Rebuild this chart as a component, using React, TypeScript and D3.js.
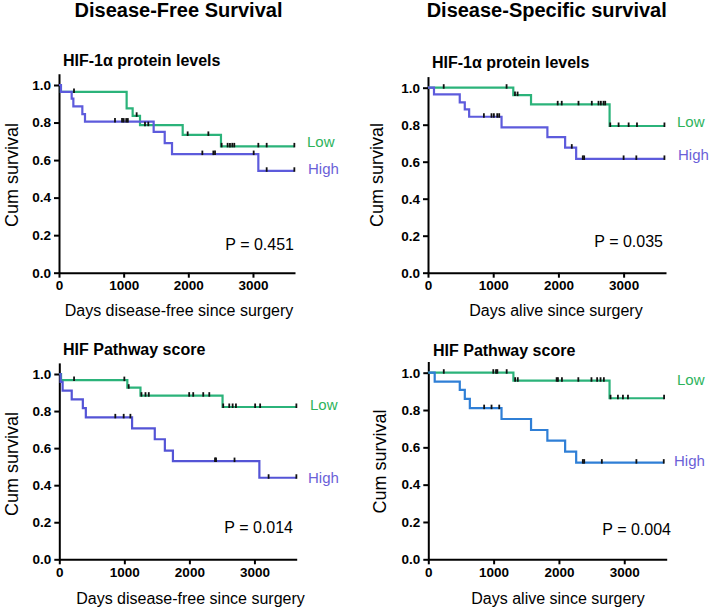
import React, { useEffect, useRef } from "react";
import * as d3 from "d3";

// ---------- text / ticks ----------
const xTickValues = [0, 1000, 2000, 3000];
const yTickValues = [0, 0.2, 0.4, 0.6, 0.8, 1.0];
const groupLabels = ["Low", "High"];
const columnTitles = ["Disease-Free Survival", "Disease-Specific survival"];
const rowTitles = ["HIF-1\u03B1 protein levels", "HIF Pathway score"];
const xAxisTitles = ["Days disease-free since surgery", "Days alive since surgery"];
const yAxisTitle = "Cum survival";
const pValues = ["P = 0.451", "P = 0.035", "P = 0.014", "P = 0.004"];

// ---------- Panel A: DFS, HIF-1a protein ----------
const dfsProtLowEventDays = [30, 1046, 1139, 1253, 1913, 2505];
const dfsProtLowSurv = [0.963, 0.875, 0.836, 0.786, 0.734, 0.673];
const dfsProtLowCensorDays = [232, 1201, 1330, 1381, 1990, 2310, 2515, 2608, 2644, 2680, 2711, 3083, 3212, 3640];
const dfsProtHighEventDays = [30, 196, 222, 361, 402, 1464, 1635, 1748, 3083];
const dfsProtHighSurv = [0.963, 0.927, 0.886, 0.845, 0.805, 0.75, 0.69, 0.632, 0.543];
const dfsProtHighCensorDays = [866, 975, 1000, 1040, 1065, 2217, 2387, 2413, 3011, 3212, 3640];

// ---------- Panel B: DSS, HIF-1a protein ----------
const dssProtLowEventDays = [1308, 1580, 2785];
const dssProtLowSurv = [0.96, 0.91, 0.793];
const dssProtLowCensorDays = [241, 1205, 1334, 1374, 1989, 2051, 2308, 2512, 2615, 2651, 2692, 2718, 2795, 2923, 3077, 3205, 3626];
const dssProtHighEventDays = [92, 487, 564, 631, 1128, 1831, 2103, 2272];
const dssProtHighSurv = [0.964, 0.921, 0.883, 0.843, 0.786, 0.733, 0.676, 0.615];
const dssProtHighCensorDays = [857, 974, 1010, 1062, 1092, 2205, 2374, 2395, 3000, 3195, 3626];

// ---------- Panel C: DFS, HIF pathway score ----------
const dfsPathLowEventDays = [27, 1046, 1248, 2510];
const dfsPathLowSurv = [0.967, 0.926, 0.883, 0.822];
const dfsPathLowCensorDays = [227, 1000, 1067, 1263, 1325, 1376, 1997, 2059, 2213, 2306, 2520, 2613, 2665, 2716, 3011, 3088, 3645];
const dfsPathHighEventDays = [20, 51, 191, 362, 408, 1119, 1468, 1623, 1747, 3076];
const dfsPathHighSurv = [0.958, 0.91, 0.863, 0.816, 0.766, 0.707, 0.648, 0.586, 0.53, 0.44];
const dfsPathHighCensorDays = [861, 990, 1093, 2394, 2410, 2694, 3218, 3645];

// ---------- Panel D: DSS, HIF pathway score ----------
const dssPathLowEventDays = [1303, 2775];
const dssPathLowSurv = [0.957, 0.863];
const dssPathLowCensorDays = [237, 995, 1037, 1057, 1200, 1329, 1370, 1965, 1985, 2046, 2297, 2498, 2585, 2637, 2688, 2790, 2903, 2980, 3057, 3610];
const dssPathHighEventDays = [98, 482, 559, 636, 1121, 1573, 1823, 2095, 2264];
const dssPathHighSurv = [0.952, 0.908, 0.86, 0.81, 0.752, 0.693, 0.636, 0.577, 0.518];
const dssPathHighCensorDays = [855, 968, 1086, 2366, 2387, 2657, 3186, 3605];

const W = 709;
const H = 611;
const FONT = "Arial, 'Liberation Sans', Helvetica, sans-serif";

type Curve = { ev: number[]; s: number[]; c: number[]; color: string };

const panels = [
  {
    x0: 59, x1: 295, yb: 272.7, y1: 85,
    sub: rowTitles[0], subX: 63, subY: 66,
    xt: xAxisTitles[0], xtX: 179, xtY: 316,
    ytX: 17.5, ytY: 175,
    p: pValues[0], pX: 294, pY: 250,
    low: { ev: dfsProtLowEventDays, s: dfsProtLowSurv, c: dfsProtLowCensorDays, color: "#2bb37a" },
    high: { ev: dfsProtHighEventDays, s: dfsProtHighSurv, c: dfsProtHighCensorDays, color: "#5d5bdc" },
    lowLab: [307, 1], highLab: [308, 3],
  },
  {
    x0: 428, x1: 666, yb: 272.7, y1: 87.7,
    sub: rowTitles[0], subX: 432, subY: 68,
    xt: xAxisTitles[1], xtX: 556, xtY: 316,
    ytX: 382.5, ytY: 175,
    p: pValues[1], pX: 663, pY: 247,
    low: { ev: dssProtLowEventDays, s: dssProtLowSurv, c: dssProtLowCensorDays, color: "#2bb37a" },
    high: { ev: dssProtHighEventDays, s: dssProtHighSurv, c: dssProtHighCensorDays, color: "#5d5bdc" },
    lowLab: [677, 1], highLab: [678, 1],
  },
  {
    x0: 59.3, x1: 296.7, yb: 559.3, y1: 374,
    sub: rowTitles[1], subX: 63, subY: 355,
    xt: xAxisTitles[0], xtX: 190.5, xtY: 604,
    ytX: 17.5, ytY: 464,
    p: pValues[2], pX: 293, pY: 533,
    low: { ev: dfsPathLowEventDays, s: dfsPathLowSurv, c: dfsPathLowCensorDays, color: "#2bb37a" },
    high: { ev: dfsPathHighEventDays, s: dfsPathHighSurv, c: dfsPathHighCensorDays, color: "#5454d6" },
    lowLab: [310, 3], highLab: [308, 5],
  },
  {
    x0: 428.3, x1: 666.7, yb: 559.3, y1: 372.7,
    sub: rowTitles[1], subX: 433, subY: 356,
    xt: xAxisTitles[1], xtX: 558, xtY: 604,
    ytX: 385.5, ytY: 461.5,
    p: pValues[3], pX: 671, pY: 535,
    low: { ev: dssPathLowEventDays, s: dssPathLowSurv, c: dssPathLowCensorDays, color: "#2bb37a" },
    high: { ev: dssPathHighEventDays, s: dssPathHighSurv, c: dssPathHighCensorDays, color: "#2f7fd6" },
    lowLab: [677, -13], highLab: [674, 3],
  },
];

function survAt(curve: Curve, t: number) {
  let s = 1;
  for (let i = 0; i < curve.ev.length; i++) if (curve.ev[i] <= t) s = curve.s[i];
  return s;
}

export default function App() {
  const ref = useRef<SVGSVGElement>(null);

  useEffect(() => {
    const svg = d3.select(ref.current);
    svg.selectAll("*").remove();
    svg.append("rect").attr("width", W).attr("height", H).attr("fill", "#fff");

    // column titles
    [178.5, 546.7].forEach((cx, i) => {
      svg.append("text").attr("x", cx).attr("y", 17).attr("text-anchor", "middle")
        .attr("font-family", FONT).attr("font-weight", "bold").attr("font-size", 20)
        .attr("fill", "#000").text(columnTitles[i]);
    });

    panels.forEach((p) => {
      const x = d3.scaleLinear().domain([0, 3650]).range([p.x0, p.x1]);
      const unit = p.yb - p.y1;
      const y = d3.scaleLinear().domain([0, 1.06]).range([p.yb, p.yb - 1.06 * unit]);
      const g = svg.append("g");

      // axes
      const xa = g.append("g").attr("transform", `translate(0,${p.yb})`)
        .call(d3.axisBottom(x).tickValues(xTickValues).tickSize(5).tickSizeOuter(0).tickPadding(3).tickFormat(d3.format("d")));
      const ya = g.append("g").attr("transform", `translate(${p.x0},0)`)
        .call(d3.axisLeft(y).tickValues(yTickValues).tickSize(5).tickSizeOuter(0).tickPadding(3).tickFormat(d3.format(".1f")));
      [xa, ya].forEach((a) => {
        a.select(".domain").attr("stroke", "#000").attr("stroke-width", 2);
        a.selectAll(".tick line").attr("stroke", "#000").attr("stroke-width", 2);
        a.selectAll(".tick text").attr("font-family", FONT).attr("font-weight", "bold")
          .attr("font-size", 13.5).attr("fill", "#000");
      });

      // curves
      const line = d3.line<[number, number]>().x((d) => x(d[0])).y((d) => y(d[1])).curve(d3.curveStepAfter);
      [p.low as Curve, p.high as Curve].forEach((c) => {
        const end = Math.max(c.c[c.c.length - 1], c.ev[c.ev.length - 1]);
        const pts: [number, number][] = [[0, 1]];
        c.ev.forEach((t, i) => pts.push([t, c.s[i]]));
        pts.push([end, c.s[c.s.length - 1]]);
        g.append("path").attr("d", line(pts)).attr("fill", "none")
          .attr("stroke", c.color).attr("stroke-width", 2.2);
      });
      [p.low as Curve, p.high as Curve].forEach((c) => {
        g.selectAll(null).data(c.c).enter().append("line")
          .attr("x1", (t) => x(t)).attr("x2", (t) => x(t))
          .attr("y1", (t) => y(survAt(c, t)) - 3.5).attr("y2", (t) => y(survAt(c, t)) + 1)
          .attr("stroke", "#111").attr("stroke-width", 1.8);
      });

      // group labels
      const lowEnd = p.low.s[p.low.s.length - 1];
      const highEnd = p.high.s[p.high.s.length - 1];
      g.append("text").attr("x", p.lowLab[0]).attr("y", y(lowEnd) + p.lowLab[1])
        .attr("font-family", FONT).attr("font-size", 15).attr("fill", "#2db35c").text(groupLabels[0]);
      g.append("text").attr("x", p.highLab[0]).attr("y", y(highEnd) + p.highLab[1])
        .attr("font-family", FONT).attr("font-size", 15).attr("fill", "#6b5fd8").text(groupLabels[1]);

      // subtitle
      g.append("text").attr("x", p.subX).attr("y", p.subY).attr("font-family", FONT)
        .attr("font-weight", "bold").attr("font-size", 16).attr("fill", "#000").text(p.sub);
      // x title
      g.append("text").attr("x", p.xtX).attr("y", p.xtY).attr("text-anchor", "middle")
        .attr("font-family", FONT).attr("font-size", 16).attr("fill", "#000").text(p.xt);
      // y title
      g.append("text").attr("transform", `translate(${p.ytX},${p.ytY}) rotate(-90)`)
        .attr("text-anchor", "middle").attr("font-family", FONT).attr("font-size", 18)
        .attr("fill", "#000").text(yAxisTitle);
      // p value
      g.append("text").attr("x", p.pX).attr("y", p.pY).attr("text-anchor", "end")
        .attr("font-family", FONT).attr("font-size", 16).attr("fill", "#000").text(p.p);
    });
  }, []);

  return (
    <svg ref={ref} width={W} height={H}
      style={{ position: "absolute", left: 0, top: 0, display: "block" }} />
  );
}
